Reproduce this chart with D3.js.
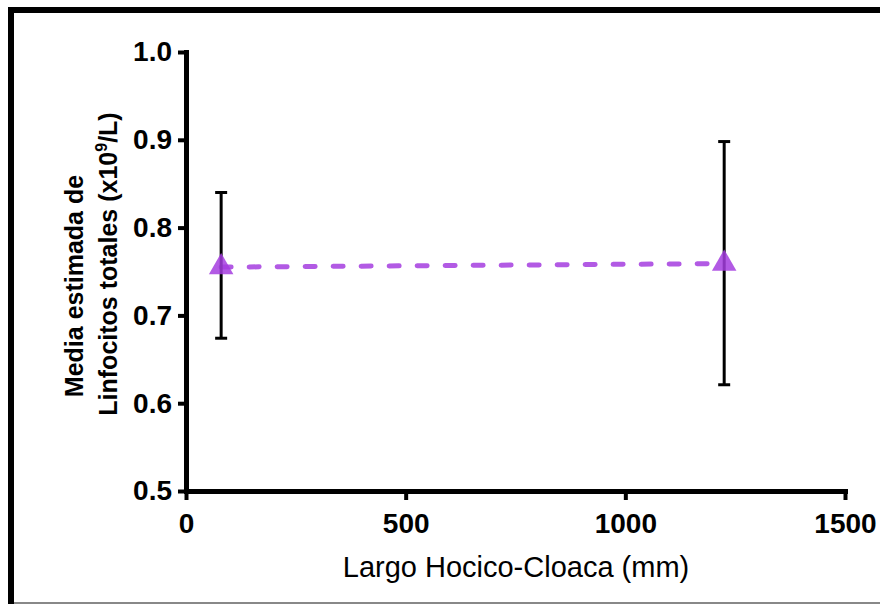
<!DOCTYPE html>
<html>
<head>
<meta charset="utf-8">
<script src="https://cdn.jsdelivr.net/npm/d3@7"></script>
<style>
  body { margin: 0; background: #fff; }
  svg { display: block; font-family: "Liberation Sans", Arial, sans-serif; }
</style>
</head>
<body>
<script>
'use strict';

// values
const lengths = [80, 1225];          // Largo Hocico-Cloaca (mm)
const means = [0.755, 0.759];        // media estimada
const lower = [0.674, 0.621];        // lower end of error bar
const upper = [0.840, 0.898];        // upper end of error bar
const xTicks = [0, 500, 1000, 1500];
const yTicks = [0.5, 0.6, 0.7, 0.8, 0.9, 1.0];

(function() {
  const width = 880, height = 604;
  const purple = '#a43ddf';

  let svg = d3.select('body')
    .append('svg')
    .attr('width', width)
    .attr('height', height);

  // outer frame (right edge runs off the picture)
  svg.append('rect')
    .attr('x', 11)
    .attr('y', 10)
    .attr('width', 900)
    .attr('height', 640)
    .attr('fill', 'none')
    .attr('stroke', '#000')
    .attr('stroke-width', 6);

  svg.append('line')
    .attr('x1', 14).attr('x2', width)
    .attr('y1', 603).attr('y2', 603)
    .attr('stroke', '#888')
    .attr('stroke-width', 2);

  let x = d3.scaleLinear().domain([0, 1500]).range([186, 845]);
  let y = d3.scaleLinear().domain([0.5, 1.0]).range([491, 52]);

  // axes
  let xAxis = d3.axisBottom(x)
    .tickValues(xTicks)
    .tickSize(9)
    .tickSizeOuter(0)
    .tickPadding(13)
    .tickFormat(d3.format('d'));

  let yAxis = d3.axisLeft(y)
    .tickValues(yTicks)
    .tickSize(8)
    .tickSizeOuter(0)
    .tickPadding(6)
    .tickFormat(d3.format('.1f'));

  let gx = svg.append('g')
    .attr('transform', 'translate(0,' + y(0.5) + ')')
    .call(xAxis);

  let gy = svg.append('g')
    .attr('transform', 'translate(' + x(0) + ',0)')
    .call(yAxis);

  [gx, gy].forEach(function(g) {
    g.select('.domain')
      .attr('stroke', '#000')
      .attr('stroke-width', 5)
      .attr('stroke-linecap', 'square');
    g.selectAll('.tick line')
      .attr('stroke', '#000')
      .attr('stroke-width', 4);
    g.selectAll('.tick text')
      .attr('fill', '#000')
      .style('font-size', '28px')
      .style('font-weight', 'bold')
      .style('font-family', '"Liberation Sans", Arial, sans-serif');
  });

  // dashed line between the means
  let line = d3.line()
    .x(function(d, i) { return x(lengths[i]); })
    .y(function(d) { return y(d); });

  svg.append('path')
    .datum(means)
    .attr('d', line)
    .attr('fill', 'none')
    .attr('stroke', purple)
    .attr('stroke-opacity', 0.85)
    .attr('stroke-width', 5)
    .attr('stroke-linecap', 'round')
    .attr('stroke-dasharray', '10,18');

  // error bars
  let bars = svg.append('g');
  lengths.forEach(function(v, i) {
    let cx = x(v);
    bars.append('line')
      .attr('x1', cx).attr('x2', cx)
      .attr('y1', y(upper[i])).attr('y2', y(lower[i]))
      .attr('stroke', '#000').attr('stroke-width', 3);
    [upper[i], lower[i]].forEach(function(e) {
      bars.append('line')
        .attr('x1', cx - 6).attr('x2', cx + 6)
        .attr('y1', y(e)).attr('y2', y(e))
        .attr('stroke', '#000').attr('stroke-width', 3);
    });
  });

  // triangle markers
  svg.selectAll('.pt')
    .data(means)
    .enter()
    .append('path')
    .attr('class', 'pt')
    .attr('d', d3.symbol().type(d3.symbolTriangle).size(260))
    .attr('transform', function(d, i) { return 'translate(' + x(lengths[i]) + ',' + y(d) + ')'; })
    .attr('fill', purple)
    .attr('fill-opacity', 0.85);

  // axis titles
  svg.append('text')
    .attr('x', 516)
    .attr('y', 577)
    .attr('text-anchor', 'middle')
    .style('font-size', '29px')
    .text('Largo Hocico-Cloaca (mm)');

  // y title, two rotated lines
  svg.append('text')
    .attr('transform', 'translate(83,286) rotate(-90)')
    .attr('text-anchor', 'middle')
    .style('font-size', '25px')
    .style('font-weight', 'bold')
    .text('Media estimada de');

  let yTitle = svg.append('text')
    .attr('transform', 'translate(117,264) rotate(-90)')
    .attr('text-anchor', 'middle')
    .style('font-size', '25px')
    .style('font-weight', 'bold');
  yTitle.append('tspan').text('Linfocitos totales (x10');
  yTitle.append('tspan')
    .attr('dy', -10)
    .style('font-size', '16px')
    .text('9');
  yTitle.append('tspan')
    .attr('dy', 10)
    .text('/L)');
})();
</script>
</body>
</html>
